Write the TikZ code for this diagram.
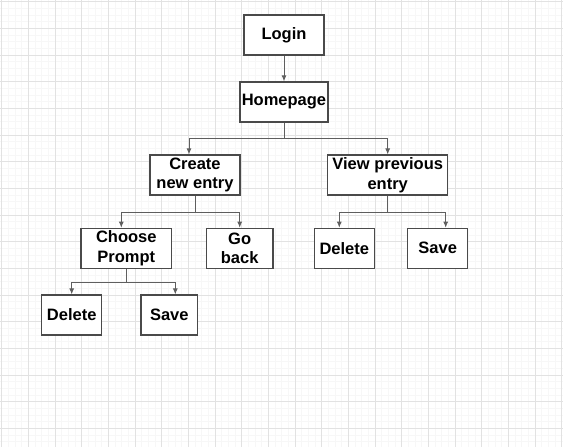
\documentclass[tikz,border=0pt]{standalone}
\usepackage{fontspec}
\setmainfont{Liberation Sans}
\usetikzlibrary{arrows.meta}
\definecolor{boxgrey}{HTML}{4A4A4A}
\definecolor{linegrey}{HTML}{5E5E5E}
\definecolor{gridmajor}{HTML}{E2E2E2}
\definecolor{gridminor}{HTML}{F7F7F7}
\tikzset{every node/.style={rectangle,draw=boxgrey,line width=1.2pt,fill=white,minimum height=40pt,inner sep=0pt,align=center,font=\fontsize{16.5}{19.5}\selectfont\bfseries}}
\tikzset{arr/.style={draw=linegrey,line width=0.9pt,-{Latex[length=6pt,width=5pt]}}}

\begin{document}
\begin{tikzpicture}[x=1pt,y=-1pt]
      \useasboundingbox (0,0) rectangle (563,447);
      \fill[white] (0,0) rectangle (563,447);
      % grid
      \foreach \i in {0,...,84} \draw[gridminor,line width=0.5pt] ({1.67+6.667*\i},0) -- ({1.67+6.667*\i},447);
      \foreach \i in {0,...,67} \draw[gridminor,line width=0.5pt] (0,{1.67+6.667*\i}) -- (563,{1.67+6.667*\i});
      \foreach \i in {0,...,21} \draw[gridmajor,line width=0.7pt] ({1.67+26.67*\i},0) -- ({1.67+26.67*\i},447);
      \foreach \i in {0,...,16} \draw[gridmajor,line width=0.7pt] (0,{1.67+26.67*\i}) -- (563,{1.67+26.67*\i});
      % boxes
      \node[minimum width=80pt] (login) at (284,35) {Login};
      \node[minimum width=88pt] (home) at (284,102) {Homepage};
      \node[minimum width=90pt] (create) at (195,175) {Create\\new entry};
      \node[minimum width=120pt] (view) at (387.7,175) {View previous\\entry};
      \node[minimum width=90.7pt] (choose) at (126.3,248.3) {Choose\\Prompt};
      \node[minimum width=66.7pt] (goback) at (239.7,248.3) {Go\\back};
      \node[minimum width=60pt] (cdel) at (71.7,315) {Delete};
      \node[minimum width=56.7pt] (csave) at (169.3,315) {Save};
      \node[minimum width=60pt] (vdel) at (344.3,248.3) {Delete};
      \node[minimum width=60pt] (vsave) at (437.7,248.3) {Save};
      % connectors
        \draw[arr] (login) -- (home);
        \draw[arr] (home.south) -- ++(0,15.7) coordinate (hj) -| ([xshift=-6pt]create.north);
        \draw[arr] (hj) -| (view.north);
        \draw[arr] (create.south) -- ++(0,16.7) coordinate (cj) -| ([xshift=-5pt]choose.north);
        \draw[arr] (cj) -| (goback.north);
        \draw[arr] (choose.south) -- ++(0,13.4) coordinate (pj) -| (cdel.north);
        \draw[arr] (pj) -| ([xshift=6pt]csave.north);
        \draw[arr] (view.south) -- ++(0,16.7) coordinate (vj) -| ([xshift=-5pt]vdel.north);
        \draw[arr] (vj) -| ([xshift=8pt]vsave.north);
    \end{tikzpicture}
\end{document}
